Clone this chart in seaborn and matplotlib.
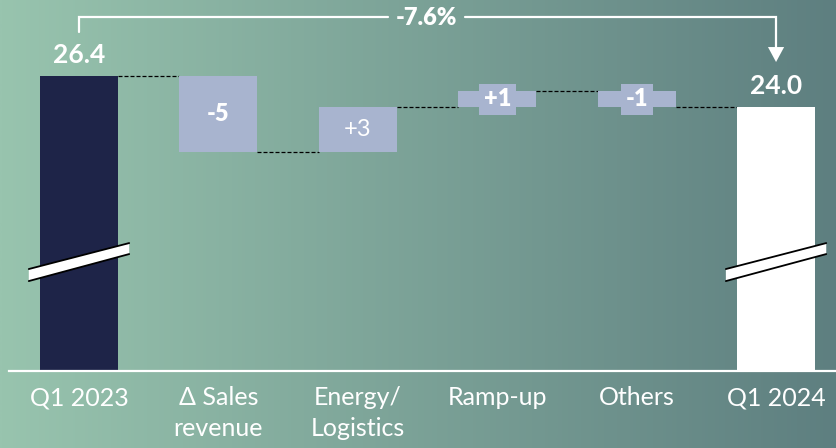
import numpy as np
import pandas as pd
import matplotlib
matplotlib.use("Agg")
import matplotlib.pyplot as plt
import seaborn as sns
from matplotlib.colors import LinearSegmentedColormap
from matplotlib.patches import Polygon

# ---------------- data ----------------
categories = ["Q1 2023", "\u0394 Sales\nrevenue", "Energy/\nLogistics", "Ramp-up", "Others", "Q1 2024"]
start_value = 26.4
end_value = 24.0
deltas = [-5.9, 3.5, 1.2, -1.2]
delta_labels = ["-5", "+3", "+1", "-1"]
delta_bold = [True, False, True, True]
total_labels = ["26.4", "24.0"]
change_label = "-7.6%"

# ---------------- styling ----------------
sns.set_theme(style="white")
plt.rcParams["font.family"] = ["Lato", "DejaVu Sans"]

NAVY = "#1e2448"
DELTA = "#a8b4cf"
WHITE = "#ffffff"
BG_LEFT = "#98c4ae"
BG_RIGHT = "#5e7f80"

# waterfall geometry
levels = [start_value]
for d in deltas:
    levels.append(levels[-1] + d)
bottoms = [0.0] + [min(levels[i], levels[i + 1]) for i in range(len(deltas))] + [0.0]
heights = [start_value] + [abs(d) for d in deltas] + [end_value]
colors = [NAVY] + [DELTA] * len(deltas) + [WHITE]

df = pd.DataFrame({"category": categories, "height": heights})

fig = plt.figure(figsize=(8.36, 4.48), dpi=100)

# gradient background
bg = fig.add_axes([0, 0, 1, 1], zorder=0)
cmap = LinearSegmentedColormap.from_list("bg", [BG_LEFT, BG_RIGHT])
bg.imshow(np.linspace(0, 1, 512)[None, :], aspect="auto", cmap=cmap, extent=[0, 1, 0, 1])
bg.set_axis_off()

ax = fig.add_axes([9 / 836, 77 / 448, 827 / 836, 371 / 448], zorder=1)
ax.patch.set_alpha(0)

sns.barplot(data=df, x="category", y="height", hue="category", palette=colors,
            order=categories, hue_order=categories, width=0.56, saturation=1,
            legend=False, ax=ax, zorder=2)

for patch, b in zip(ax.patches, bottoms):
    patch.set_y(b)
    patch.set_edgecolor("none")

ax.set_xlim(-0.502, 5.43)
ax.set_ylim(3.57, 32.28)

# spines / ticks
for s in ["left", "right", "top"]:
    ax.spines[s].set_visible(False)
ax.spines["bottom"].set_color("white")
ax.spines["bottom"].set_linewidth(1.6)
ax.set_yticks([])
ax.set_xlabel("")
ax.set_ylabel("")
ax.tick_params(axis="x", length=0, pad=11, colors="white", labelsize=18)
for t in ax.get_xticklabels():
    t.set_linespacing(1.42)

half = 0.28
# connectors
for i in range(len(levels)):
    y = levels[i]
    ax.plot([i + half, i + 1 - half], [y, y], color="black", lw=0.9,
            linestyle=(0, (3.2, 1.6)), zorder=1)

# delta labels
for i, (d, lab, bold) in enumerate(zip(deltas, delta_labels, delta_bold)):
    x = i + 1
    ymid = bottoms[i + 1] + abs(d) / 2
    small = abs(d) < 2
    ax.text(x, ymid, lab, ha="center", va="center", color="white", fontsize=17,
            fontweight="heavy" if bold else "normal", zorder=4,
            bbox=dict(boxstyle="square,pad=0.2", fc=DELTA, ec="none") if small else None)

# total labels
for x, v, lab in [(0, start_value, total_labels[0]), (5, end_value, total_labels[1])]:
    ax.annotate(lab, (x, v), xytext=(0, 15), textcoords="offset points",
                ha="center", va="center", color="white", fontsize=19,
                fontweight="bold", zorder=4)

# axis break marks
for c in [0, 5]:
    poly = Polygon([(c - 0.36, 10.53), (c + 0.36, 12.62), (c + 0.36, 13.47), (c - 0.36, 11.46)],
                   closed=True, fc="white", ec="none", zorder=3)
    ax.add_patch(poly)
    ax.plot([c - 0.36, c + 0.36], [10.53, 12.62], color="black", lw=1.3, zorder=3.5)
    ax.plot([c - 0.36, c + 0.36], [11.46, 13.47], color="black", lw=1.3, zorder=3.5)

# bracket with change label
y_line = start_value + 4.55
ax.plot([0, 0, 2.22], [start_value + 3.4, y_line, y_line], color="white", lw=1.6,
        clip_on=False, solid_joinstyle="miter")
ax.plot([2.77, 5, 5], [y_line, y_line, end_value + 4.6], color="white", lw=1.6,
        clip_on=False, solid_joinstyle="miter")
tip = end_value + 3.48
ax.add_patch(Polygon([(5 - 0.058, tip + 1.16), (5 + 0.058, tip + 1.16), (5, tip)],
                     closed=True, fc="white", ec="none", clip_on=False))
ax.text(2.495, y_line - 0.1, change_label, ha="center", va="center", color="white",
        fontsize=17, fontweight="heavy")

fig.savefig("out.png", dpi=100)
